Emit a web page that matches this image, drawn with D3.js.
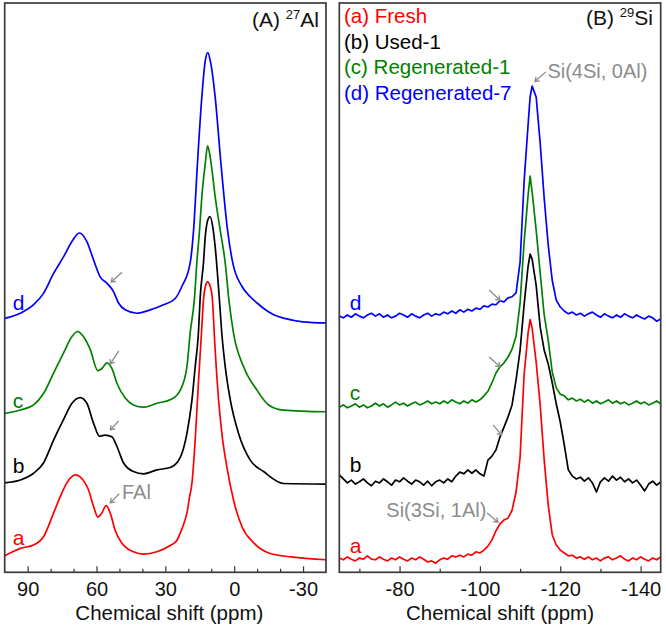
<!DOCTYPE html>
<html><head><meta charset="utf-8">
<script src="https://cdn.jsdelivr.net/npm/d3@7"></script>
<style>
body{margin:0;background:#fff}
svg{display:block}
text{font-family:"Liberation Sans",Arial,sans-serif}
</style>
</head><body>
<svg id="c" width="666" height="625"></svg>
<script>
// ---------------- data ----------------
const seriesNames   = ["(a) Fresh", "(b) Used-1", "(c) Regenerated-1", "(d) Regenerated-7"];
const seriesLetters = ["a", "b", "c", "d"];
const seriesColors  = ["#ff0000", "#000000", "#008000", "#0000ff"];

// 27Al spectra: [chemical shift (ppm), intensity (a.u., offset stacked)]
const alFresh = [[100,2.9],[96,3.7],[93.2,4.2],[87.4,4.8],[83,6.3],[78.7,10.4],[75.8,13.3],[72.9,15.7],[71,16.7],[69.3,17.1],[67,16.7],[65,15.7],[63.5,14.5],[61.3,11.6],[59.4,9.7],[57.7,10.4],[55.8,11.7],[54,10.4],[51.9,7.4],[48.9,5.1],[43.9,3.6],[39.5,3.2],[33.7,3.6],[27.9,4.7],[25,5.6],[23.5,6.9],[22,8.5],[20.6,10.4],[19.5,13.1],[18.4,15.7],[17,23.2],[15.6,33.2],[14.1,43.1],[13.4,47.8],[12.5,50.3],[11.6,51.0],[10.5,50.3],[9.6,48.4],[8.3,39.1],[6.8,30.3],[5.4,24.5],[3.2,18.5],[0.3,12.7],[-3.4,8.0],[-8.4,5.2],[-15,3.4],[-25,2.7],[-40,2.2]];
const alUsed1 = [[100,15.7],[93.2,16.2],[87.4,17.4],[83.1,19.2],[78.7,23.2],[74.4,26.8],[70.7,29.7],[67.1,30.7],[64.2,29.7],[61.3,26.2],[58.7,23.9],[56.2,24.1],[53.3,23.8],[51.1,22.1],[48.2,19.2],[43.9,17.7],[39.5,17.3],[33.7,18.0],[27.9,18.4],[23.5,20.2],[20.6,24.4],[18.4,30.3],[17,36.1],[15.6,42.0],[14.8,48.4],[13.4,54.3],[12.6,59.0],[11.5,61.9],[10.5,62.5],[9.4,60.8],[8.3,57.2],[6.5,48.2],[5.4,42.0],[3.9,36.1],[1.7,30.3],[-1.9,24.4],[-7,19.7],[-12.8,17.7],[-21.5,15.6],[-40,15.5]];
const alRegen1 = [[100,27.9],[93.2,28.5],[87.4,29.4],[83.1,31.4],[78.7,35.0],[74.4,38.5],[70.7,41.4],[68.3,42.3],[65.7,41.4],[62.7,39.1],[59.4,35.4],[57.6,35.8],[55.5,36.8],[53.3,35.8],[51.1,33.2],[47.5,30.6],[43.9,29.4],[39.5,29.0],[33.7,29.7],[27.9,30.3],[25,31.1],[23.5,32.0],[20.6,36.1],[19.2,42.0],[17.3,48.2],[16.3,54.3],[15.1,60.1],[14.1,66.0],[12.6,71.8],[11.6,74.9],[10.6,73.3],[9.7,70.7],[8.3,66.0],[6.1,60.1],[3.9,54.3],[2.4,48.2],[0.3,42.0],[-4.1,36.1],[-9.9,32.0],[-15,29.4],[-21.5,28.5],[-40,28.2]];
const alRegen7 = [[100,44.6],[93.2,45.5],[87.4,47.0],[83.1,49.0],[78.7,52.5],[74.4,55.4],[70.7,58.1],[67.5,59.6],[64.2,58.1],[61.3,54.9],[58.4,51.9],[55.5,50.8],[52.6,49.3],[50.4,47.3],[47.5,46.1],[42.4,45.5],[36.6,46.1],[30.8,47.0],[25.7,48.1],[22.8,50.2],[19.2,54.3],[17.7,60.1],[16,71.9],[14.1,83.5],[12.7,89.6],[11.5,91.3],[10.3,89.6],[8.3,83.5],[5.8,71.9],[2.9,60.1],[0.6,54.3],[-3.4,50.2],[-7,48.4],[-10,47.3],[-13,46.3],[-17,45.3],[-22,44.6],[-30,44.0],[-40,43.8]];

// 29Si spectra on a shared shift grid (ppm)
const siShift = [-65,-66,-67,-68,-69,-70,-71,-72,-73,-74,-75,-76,-77,-78,-79,-80,-81,-82,-83,-84,-85,-86,-87,-88,-89,-90,-91,-92,-93,-94,-95,-96,-97,-98,-99,-100,-101,-102,-103,-104,-105,-106,-107,-108,-109,-110,-111,-112,-112.5,-113,-114,-115,-116,-117,-118,-119,-120,-121,-122,-123,-124,-125,-126,-127,-128,-129,-130,-131,-132,-133,-134,-135,-136,-137,-138,-139,-140,-141,-142,-143,-144,-145];
const siFresh = [2.5,2.2,2.7,2.3,2.0,2.5,2.3,2.9,2.3,2.2,2.7,2.3,2.0,2.5,2.2,2.7,2.3,2.0,2.5,2.2,2.7,2.3,1.8,2.0,1.6,2.2,2.5,2.3,2.9,2.7,3.0,2.7,3.2,3.0,3.6,3.4,3.9,
  4.6,5.7,7.3,8.5,9.2,9.5,10.9,14.1,20.2,34.7,42.1,44.4,
  42.9,36.9,29.4,19.7,11.8,6.6,4.8,3.9,3.4,2.9,3.0,2.5,2.7,2.3,2.7,2.2,2.5,2.0,2.5,2.7,2.2,2.5,2.9,2.3,2.0,2.5,2.2,2.7,2.3,2.0,2.5,2.2,2.7];
const siUsed1 = [17.1,16.4,15.7,16.2,15.5,15.9,16.4,15.7,15.2,16.0,15.7,16.4,15.9,15.3,16.2,15.9,16.6,16.0,15.5,16.2,15.9,15.3,16.0,15.2,15.9,16.2,15.7,16.4,15.9,16.9,17.6,17.3,18.0,17.4,18.0,17.3,16.9,
  19.7,20.4,21.5,23.8,25.5,27.3,29.4,33.8,39.0,47.0,53.8,55.9,
  55.0,50.4,43.1,39.0,36.6,33.3,29.6,26.4,22.4,18.0,16.9,16.4,16.7,16.0,16.6,15.7,14.1,15.9,16.6,16.0,16.9,16.2,16.7,15.9,16.4,15.7,16.2,15.3,14.3,15.5,16.0,15.3,15.9];
const siRegen1 = [29.0,29.4,28.9,29.2,29.6,29.0,29.4,28.9,29.2,29.7,29.2,29.6,29.0,29.4,29.9,29.4,29.7,29.2,29.6,29.9,29.4,29.7,30.1,29.6,29.9,29.6,30.1,29.7,30.3,29.9,29.6,30.1,29.7,30.3,29.9,30.3,31.0,
  31.8,33.3,35.0,36.1,36.8,37.8,39.2,41.5,47.3,58.0,66.3,69.6,
  66.8,60.1,52.6,45.2,40.8,35.2,32.4,31.3,31.0,30.3,30.6,30.1,30.4,29.9,30.3,29.7,30.1,29.6,29.9,30.3,29.7,30.1,29.6,29.9,29.4,29.7,30.1,29.6,29.9,29.4,29.7,30.1,29.6];
const siRegen7 = [45.0,44.7,45.2,44.8,45.4,45.0,44.7,45.2,45.5,45.0,45.4,44.8,45.2,44.7,45.0,45.5,45.2,44.8,45.4,45.0,44.7,45.2,45.5,45.0,45.4,45.2,45.7,45.4,45.9,45.5,46.1,45.7,46.2,45.9,46.4,46.2,46.8,
  46.6,47.1,47.0,47.7,47.5,48.2,48.4,49.1,54.5,68.6,78.7,83.5,
  85.4,83.5,75.4,65.7,57.5,51.3,47.8,46.6,45.9,45.4,45.7,45.2,45.5,45.0,45.4,45.7,45.2,44.8,45.4,45.0,44.7,45.2,44.8,45.4,45.0,44.7,45.2,44.8,44.5,45.0,44.7,44.1,44.5];

const alMajorTicks = [90, 60, 30, 0, -30];
const alMinorTicks = [80, 70, 50, 40, 20, 10, -10, -20];
const siMajorTicks = [-80, -100, -120, -140];
const siMinorTicks = [-70, -90, -110, -130];

const axisTitle = "Chemical shift (ppm)";

// ---------------- layout ----------------
const svg = d3.select("#c");
const TOP = 3, BOTTOM = 572.3;
const y = d3.scaleLinear().domain([0, 100]).range([BOTTOM, TOP]);

const panels = [
  { id: "al", x0: 4.7, x1: 326, domain: [100, -40], major: alMajorTicks, minor: alMinorTicks,
    series: [alFresh, alUsed1, alRegen1, alRegen7], curve: d3.curveMonotoneX,
    nucleus: ["(A) ", "27", "Al"], nucX: 319, nucY: 27,
    letterX: 96.5, letterY: [4.8, 17.4, 28.9, 46.1], titleDx: 4 },
  { id: "si", x0: 339.3, x1: 660.7, domain: [-65, -145], major: siMajorTicks, minor: siMinorTicks,
    series: [siFresh, siUsed1, siRegen1, siRegen7].map(v => siShift.map((s, i) => [s, v[i]])),
    curve: d3.curveLinear,
    nucleus: ["(B) ", "29", "Si"], nucX: 653, nucY: 25,
    letterX: -67.6, letterY: [3.4, 17.6, 30.3, 46.1], titleDx: 0 }
];

const GRAY = "#8c8c8c";
function arrow(g, x1, y1, x2, y2) {
  const a = Math.atan2(y2 - y1, x2 - x1), L = 5, sp = 0.6;
  g.append("path")
    .attr("d", `M${x1},${y1}L${x2},${y2}` +
      `M${x2 - L * Math.cos(a - sp)},${y2 - L * Math.sin(a - sp)}L${x2},${y2}L${x2 - L * Math.cos(a + sp)},${y2 - L * Math.sin(a + sp)}`)
    .attr("fill", "none").attr("stroke", GRAY).attr("stroke-width", 1.3);
}

panels.forEach(p => {
  const x = d3.scaleLinear().domain(p.domain).range([p.x0, p.x1]);
  p.x = x;
  const g = svg.append("g");
  g.append("clipPath").attr("id", "clip-" + p.id)
    .append("rect").attr("x", p.x0).attr("y", TOP).attr("width", p.x1 - p.x0).attr("height", BOTTOM - TOP);

  const line = d3.line().x(d => x(d[0])).y(d => y(d[1])).curve(p.curve);
  const lines = g.append("g").attr("clip-path", `url(#clip-${p.id})`);
  p.series.forEach((s, i) => {
    lines.append("path").datum(s).attr("d", line)
      .attr("fill", "none").attr("stroke", seriesColors[i]).attr("stroke-width", 1.7)
      .attr("stroke-linejoin", "round");
  });

  // axes (ticks point inwards)
  const major = g.append("g").attr("transform", `translate(0,${BOTTOM})`)
    .call(d3.axisBottom(x).tickValues(p.major).tickSize(-6).tickPadding(10).tickFormat(d => String(d)));
  const minor = g.append("g").attr("transform", `translate(0,${BOTTOM})`)
    .call(d3.axisBottom(x).tickValues(p.minor).tickSize(-3.5).tickFormat(""));
  [major, minor].forEach(a => {
    a.select(".domain").remove();
    a.selectAll(".tick line").attr("stroke", "#333").attr("stroke-width", 1.2);
  });
  major.selectAll(".tick text").attr("font-size", 20).attr("fill", "#111")
    .style("font-family", '"Liberation Sans", Arial, sans-serif');

  // frame
  g.append("rect").attr("x", p.x0).attr("y", TOP).attr("width", p.x1 - p.x0).attr("height", BOTTOM - TOP)
    .attr("fill", "none").attr("stroke", "#3a3a3a").attr("stroke-width", 1.7);

  // axis title
  g.append("text").attr("x", (p.x0 + p.x1) / 2 + p.titleDx).attr("y", 619.5)
    .attr("text-anchor", "middle").attr("font-size", 20.5).attr("fill", "#111").text(axisTitle);

  // nucleus label
  const t = g.append("text").attr("x", p.nucX).attr("y", p.nucY).attr("text-anchor", "end")
    .attr("font-size", 21).attr("fill", "#111");
  t.append("tspan").text(p.nucleus[0]);
  t.append("tspan").attr("font-size", 13).attr("dy", -8).text(p.nucleus[1]);
  t.append("tspan").attr("dy", 8).text(p.nucleus[2]);

  // series letters
  seriesLetters.forEach((l, i) => {
    g.append("text").attr("x", x(p.letterX)).attr("y", y(p.letterY[i]))
      .attr("font-size", 21).attr("fill", seriesColors[i]).text(l);
  });
});

// legend (panel B)
const P = panels;
seriesNames.forEach((n, i) => {
  svg.append("text").attr("x", 344).attr("y", 23 + i * 25.6)
    .attr("font-size", 20.5).attr("fill", seriesColors[i]).text(n);
});

// annotations
const ann = svg.append("g");
const xa = P[0].x, xs = P[1].x;
// 27Al: arrows at the framework-Al shoulder
[[48.9, 52.7, 53.6, 51.0], [50.3, 38.9, 54.0, 36.6], [50.3, 26.6, 54.0, 25.0], [50.1, 13.8, 54.0, 12.2]]
  .forEach(a => arrow(ann, xa(a[0]), y(a[1]), xa(a[2]), y(a[3])));
ann.append("text").attr("x", xa(48.9)).attr("y", y(12.9)).attr("font-size", 20).attr("fill", GRAY).text("FAl");
// 29Si
arrow(ann, xs(-116.4), y(87.9), xs(-113.7), y(86.2));
ann.append("text").attr("x", xs(-116.8)).attr("y", y(86.8)).attr("font-size", 20).attr("fill", GRAY).text("Si(4Si, 0Al)");
[[-102.3, 49.6, -105.0, 47.8], [-102.3, 37.8, -105.0, 36.1], [-103.3, 25.9, -105.4, 24.1], [-101.8, 10.4, -104.5, 8.8]]
  .forEach(a => arrow(ann, xs(a[0]), y(a[1]), xs(a[2]), y(a[3])));
ann.append("text").attr("x", xs(-101.6)).attr("y", y(9.7)).attr("text-anchor", "end")
  .attr("font-size", 20).attr("fill", GRAY).text("Si(3Si, 1Al)");
</script>
</body></html>
